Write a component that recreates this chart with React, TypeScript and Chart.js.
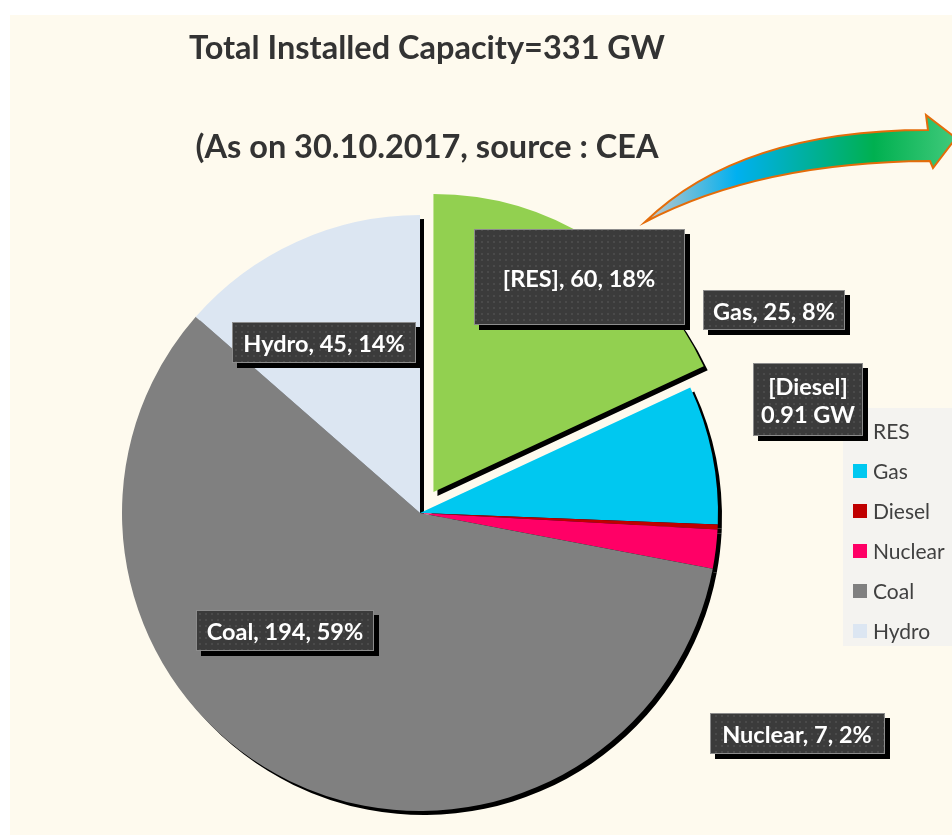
import React, { useEffect, useRef } from 'react';
import { Chart, registerables } from 'chart.js';

Chart.register(...registerables);

// ---- data ----
const CATEGORIES = ['RES', 'Gas', 'Diesel', 'Nuclear', 'Coal', 'Hydro'];
const VALUES = [60, 25, 0.91, 7, 194, 45];
const COLORS = ['#92D050', '#00C8F0', '#C00000', '#FF0066', '#808080', '#DCE6F2'];
const LABEL_LINES = [
  ['[RES], 60, 18%'],
  ['Gas, 25, 8%'],
  ['[Diesel]', '0.91 GW'],
  ['Nuclear, 7, 2%'],
  ['Coal, 194, 59%'],
  ['Hydro, 45, 14%'],
];
const TITLE_LINES = ['Total Installed Capacity=331 GW', '(As on 30.10.2017, source : CEA'];

// ---- layout / style ----
const W = 952;
const H = 835;
const RADIUS = 298;
const EXPLODE = [25, 0, 0, 0, 0, 0];
// label box centers relative to pie centre, and box sizes
const LABEL_OFFSETS = [
  [159, -236],
  [354, -203],
  [388, -114],
  [377, 220],
  [-135, 117],
  [-96, -171],
];
const LABEL_SIZES = [
  [211, 96],
  [142, 40],
  [110, 73],
  [175, 41],
  [178, 41],
  [184, 41],
];
const FONT = 'Lato, "Open Sans", sans-serif';

function makePattern(ctx: CanvasRenderingContext2D) {
  const c = document.createElement('canvas');
  c.width = 6;
  c.height = 6;
  const p = c.getContext('2d')!;
  p.fillStyle = '#3b3b3b';
  p.fillRect(0, 0, 6, 6);
  p.fillStyle = '#4a4a4a';
  p.fillRect(1, 1, 2, 2);
  return ctx.createPattern(c, 'repeat');
}

const backgroundPlugin = {
  id: 'bgPlugin',
  beforeDraw(chart: any) {
    const ctx = chart.ctx as CanvasRenderingContext2D;
    ctx.save();
    ctx.fillStyle = '#ffffff';
    ctx.fillRect(0, 0, chart.width, chart.height);
    ctx.fillStyle = '#FEFAEE';
    ctx.fillRect(10, 15, chart.width - 10, chart.height - 15);
    ctx.restore();
  },
};

const explodeShadowPlugin = {
  id: 'explodeShadow',
  beforeDatasetDraw(chart: any, args: any) {
    const meta = chart.getDatasetMeta(args.index);
    meta.data.forEach((el: any, i: number) => {
      const d = EXPLODE[i] || 0;
      el.$origX = el.x;
      el.$origY = el.y;
      if (d) {
        const mid = (el.startAngle + el.endAngle) / 2;
        el.x = el.x + Math.cos(mid) * d;
        el.y = el.y + Math.sin(mid) * d;
      }
    });
    // shadows first, as black silhouettes offset down-right
    const ctx = chart.ctx as CanvasRenderingContext2D;
    ctx.save();
    ctx.translate(4, 4);
    meta.data.forEach((el: any) => {
      const bg = el.options.backgroundColor;
      el.options.backgroundColor = '#000000';
      el.draw(ctx);
      el.options.backgroundColor = bg;
    });
    ctx.restore();
  },
  afterDatasetDraw(chart: any, args: any) {
    const meta = chart.getDatasetMeta(args.index);
    meta.data.forEach((el: any) => {
      if (el.$origX !== undefined) {
        el.x = el.$origX;
        el.y = el.$origY;
      }
    });
  },
};

function drawArrow(ctx: CanvasRenderingContext2D) {
  ctx.save();
  ctx.beginPath();
  ctx.moveTo(645, 222);
  ctx.quadraticCurveTo(740, 130, 928, 130);
  ctx.lineTo(926, 115);
  ctx.lineTo(956, 138);
  ctx.lineTo(933, 168);
  ctx.lineTo(930, 161);
  ctx.quadraticCurveTo(760, 162, 645, 222);
  ctx.closePath();
  const g = ctx.createLinearGradient(645, 0, 950, 0);
  g.addColorStop(0, '#C8C8C8');
  g.addColorStop(0.3, '#00B0F0');
  g.addColorStop(0.75, '#00B050');
  g.addColorStop(1, '#3CC878');
  ctx.fillStyle = g;
  ctx.fill();
  ctx.strokeStyle = '#E46C0A';
  ctx.lineWidth = 2;
  ctx.lineJoin = 'miter';
  ctx.stroke();
  ctx.restore();
}

const overlayPlugin = {
  id: 'overlay',
  afterDraw(chart: any) {
    const ctx = chart.ctx as CanvasRenderingContext2D;
    const meta = chart.getDatasetMeta(0);
    const cx = chart.chartArea.left + chart.chartArea.width / 2;
    const cy = chart.chartArea.top + chart.chartArea.height / 2;
    ctx.save();

    // titles
    ctx.fillStyle = '#333333';
    ctx.font = `bold 32.5px ${FONT}`;
    ctx.textAlign = 'center';
    ctx.textBaseline = 'alphabetic';
    ctx.fillText(TITLE_LINES[0], 427, 59);
    ctx.fillText(TITLE_LINES[1], 427, 158);

    drawArrow(ctx);

    // legend
    ctx.fillStyle = 'rgba(240,240,240,0.75)';
    ctx.fillRect(843, 408, W - 843, 238);
    const labels = chart.data.labels as string[];
    const bg = chart.data.datasets[0].backgroundColor as string[];
    ctx.font = `21px ${FONT}`;
    ctx.textAlign = 'left';
    ctx.textBaseline = 'middle';
    labels.forEach((lab, i) => {
      const y = 431 + i * 40;
      ctx.fillStyle = bg[i];
      ctx.fillRect(853, y - 7, 14, 14);
      ctx.fillStyle = '#404040';
      ctx.fillText(lab, 873, y + 1);
    });

    // data labels
    const pattern = makePattern(ctx);
    meta.data.forEach((_el: any, i: number) => {
      const [ox, oy] = LABEL_OFFSETS[i];
      const [bw, bh] = LABEL_SIZES[i];
      const lx = cx + ox;
      const ly = cy + oy;
      const x = Math.round(lx - bw / 2);
      const y = Math.round(ly - bh / 2);
      ctx.fillStyle = '#000000';
      ctx.fillRect(x + 5, y + 5, bw, bh);
      ctx.fillStyle = pattern || '#3b3b3b';
      ctx.fillRect(x, y, bw, bh);
      ctx.strokeStyle = '#8c8c8c';
      ctx.lineWidth = 1;
      ctx.strokeRect(x + 0.5, y + 0.5, bw - 1, bh - 1);
      ctx.fillStyle = '#ffffff';
      ctx.font = `bold 23.5px ${FONT}`;
      ctx.textAlign = 'center';
      ctx.textBaseline = 'middle';
      const lines = LABEL_LINES[i];
      lines.forEach((t, k) => {
        ctx.fillText(t, lx, ly + 2 + (k - (lines.length - 1) / 2) * 28);
      });
    });
    ctx.restore();
  },
};

export default function App() {
  const ref = useRef<HTMLCanvasElement | null>(null);
  useEffect(() => {
    document.body.style.margin = '0';
    const canvas = ref.current!;
    const chart = new Chart(canvas, {
      type: 'pie',
      data: {
        labels: CATEGORIES,
        datasets: [
          {
            data: VALUES,
            backgroundColor: COLORS,
            borderWidth: 0,
          },
        ],
      },
      options: {
        responsive: false,
        animation: false,
        devicePixelRatio: 1,
        radius: RADIUS,
        layout: { padding: { left: 0, right: 112, top: 191, bottom: 0 } },
        plugins: {
          legend: { display: false },
          tooltip: { enabled: false },
          title: { display: false },
        },
      } as any,
      plugins: [backgroundPlugin, explodeShadowPlugin, overlayPlugin],
    });
    return () => chart.destroy();
  }, []);
  return <canvas ref={ref} width={W} height={H} style={{ display: 'block', width: W, height: H }} />;
}
